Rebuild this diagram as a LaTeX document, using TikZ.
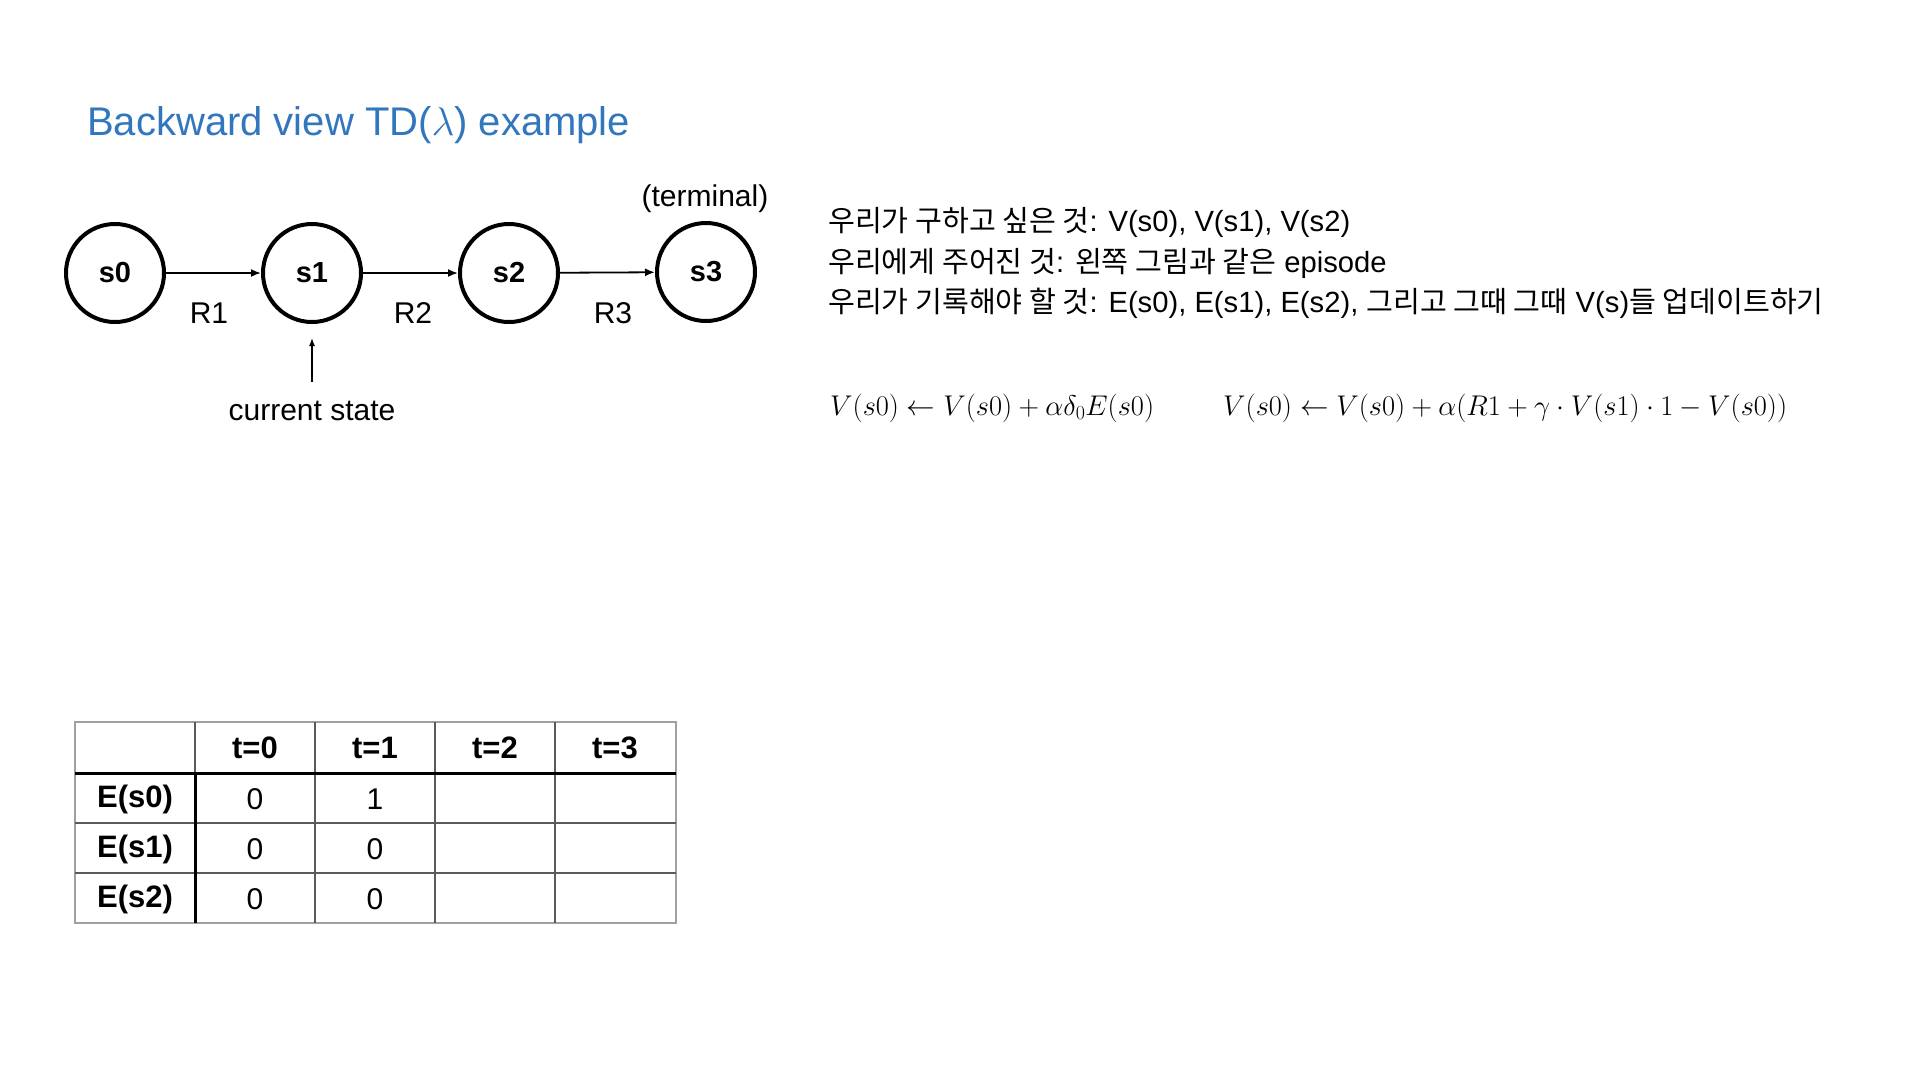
\RequirePackage{fix-cm}
\documentclass[tikz,border=0pt]{standalone}
\usepackage{fontspec}
\setmainfont{Liberation Sans}
\newfontfamily\krfont{Noto Sans CJK KR}
\usetikzlibrary{arrows.meta,positioning}
\definecolor{titleblue}{RGB}{50,118,190}
\definecolor{outergray}{RGB}{160,160,160}
\definecolor{innergray}{RGB}{90,90,90}
\newcommand{\kr}[1]{{\krfont #1}}

\begin{document}
\begin{tikzpicture}[x=1pt,y=-1pt,
	stnode/.style={circle,draw,line width=4pt,minimum size=98pt,inner sep=0pt,font=\fontsize{29}{34}\selectfont\bfseries},
	txt/.style={font=\fontsize{30}{34}\selectfont},
	krline/.style={anchor=west,inner sep=0pt,font=\fontsize{29.2}{33}\selectfont},
	eqline/.style={anchor=west,inner sep=0pt,font=\fontsize{28.5}{32}\selectfont},
	hdcell/.style={font=\fontsize{31}{34}\selectfont\bfseries},
	valcell/.style={font=\fontsize{30}{34}\selectfont},
	trans/.style={-{Latex[length=10pt,width=8pt]},line width=1.8pt}]
	\useasboundingbox (0,0) rectangle (1920,1080);

	% title
	\node[anchor=west,inner sep=0pt,text=titleblue,font=\fontsize{40}{46}\selectfont] (title) at (87,125) {Backward view TD($\lambda$) example};

	% episode chain
	\node[stnode] (s0) at (115,273) {s0};
	\node[stnode] (s1) at (312,273) {s1};
	\node[stnode] (s2) at (509,273) {s2};
	\node[stnode] (s3) at (706,272) {s3};
	\draw[trans] (s0) -- (s1);
	\draw[trans] (s1) -- (s2);
	\draw[trans] (s2) -- (s3);
	\node[txt] (r1) at (209,313) {R1};
	\node[txt] (r2) at (413,313) {R2};
	\node[txt] (r3) at (613,313) {R3};
	\node[txt] (term) at (705,199) {(terminal)};

	\node[txt] (cur) at (312,411) {current state};
	\coordinate (curtail) at (312,382);
	\draw[-{Latex[length=8pt,width=6pt]},line width=1.4pt] (curtail) -- ([yshift=-14pt]s1.south);

	% notes
	\node[krline] (goal) at (828,222) {\kr{우리가 구하고 싶은 것}: V(s0), V(s1), V(s2)};
	\node[krline] (given) at (828,263) {\kr{우리에게 주어진 것}: \kr{왼쪽 그림과 같은} episode};
	\node[krline] (rec) at (828,303) {\kr{우리가 기록해야 할 것}: E(s0), E(s1), E(s2), \kr{그리고 그때 그때} V(s)\kr{들 업데이트하기}};

	\node[eqline] (eqa) at (830,408) {$V(s0) \leftarrow V(s0) + \alpha\delta_0 E(s0)$};
	\node[eqline] (eqb) at (1223,408) {$V(s0) \leftarrow V(s0) + \alpha(R1 + \gamma\cdot V(s1)\cdot 1 - V(s0))$};

	% eligibility table
	\draw[outergray,line width=1.2pt] (75,722) rectangle (676,923);
	\foreach \yy in {823,873}
		\draw[innergray,line width=1.2pt] (75,\yy) -- (676,\yy);
	\foreach \xx in {315,435,555}
		\draw[innergray,line width=1.2pt] (\xx,722) -- (\xx,923);
	\draw[innergray,line width=1.2pt] (195,722) -- (195,773);
	\draw[line width=3pt] (75,773) -- (676,773);
	\draw[line width=3pt] (195,773) -- (195,923);

	\foreach \lab [count=\i] in {t=0,t=1,t=2,t=3}
		\node[hdcell] (h\i) at (135+120*\i,748) {\lab};
	\foreach \lab [count=\j] in {E(s0),E(s1),E(s2)}
		\node[hdcell] (e\j) at (135,749+50*\j) {\lab};
	\foreach \va [count=\j] in {0,0,0}
		\node[valcell] (a\j) at (255,749+50*\j) {\va};
	\foreach \vb [count=\j] in {1,0,0}
		\node[valcell] (b\j) at (375,749+50*\j) {\vb};
\end{tikzpicture}
\end{document}
